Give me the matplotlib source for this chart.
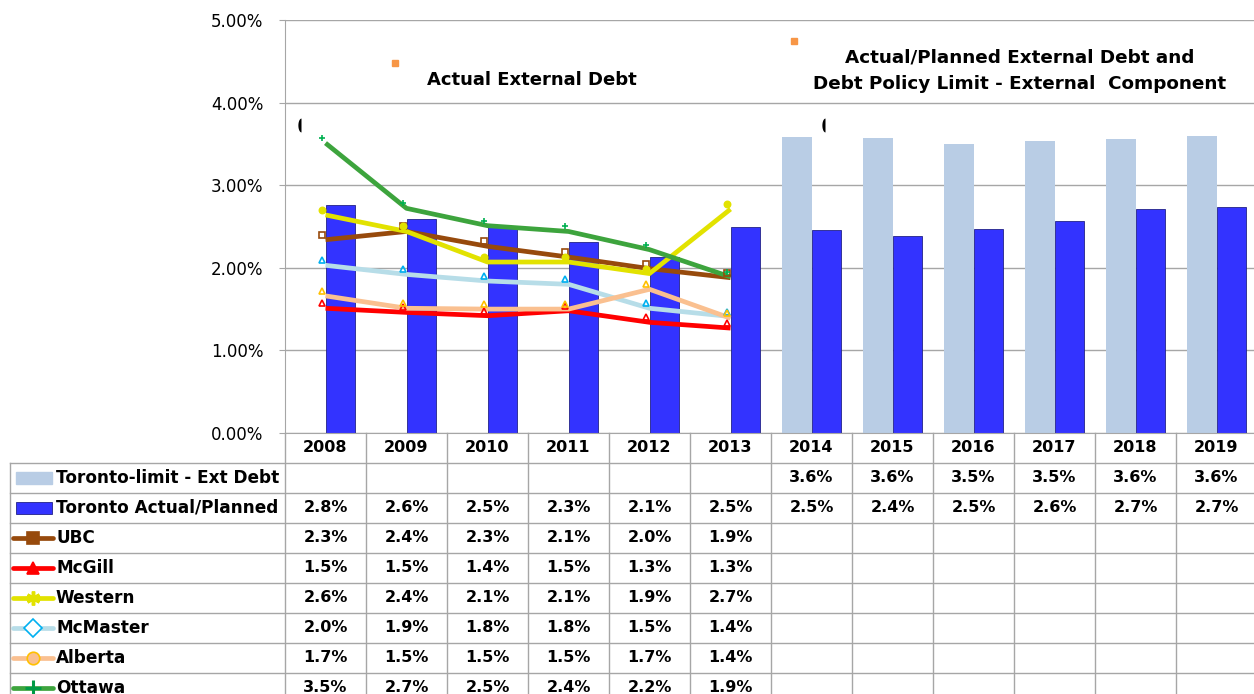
import numpy as np
import matplotlib
matplotlib.use("Agg")
import matplotlib.pyplot as plt
from matplotlib.transforms import ScaledTranslation
from matplotlib.patches import Rectangle
from matplotlib.ticker import FuncFormatter

nan = np.nan
years = ['2008', '2009', '2010', '2011', '2012', '2013',
         '2014', '2015', '2016', '2017', '2018', '2019']
toronto_limit = [nan, nan, nan, nan, nan, nan, 3.58, 3.57, 3.50, 3.54, 3.56, 3.60]
toronto_actual = [2.76, 2.59, 2.49, 2.31, 2.13, 2.49, 2.46, 2.39, 2.47, 2.57, 2.71, 2.74]
ubc = [2.34, 2.44, 2.26, 2.13, 1.99, 1.88]
mcgill = [1.51, 1.46, 1.42, 1.48, 1.34, 1.27]
western = [2.64, 2.44, 2.07, 2.07, 1.93, 2.71]
mcmaster = [2.03, 1.92, 1.84, 1.80, 1.51, 1.41]
alberta = [1.66, 1.51, 1.50, 1.50, 1.74, 1.39]
ottawa = [3.51, 2.72, 2.51, 2.44, 2.22, 1.89]

title_left = "Actual External Debt"
title_right = "Actual/Planned External Debt and\nDebt Policy Limit - External  Component"

W, H = 1254, 694
fig = plt.figure(figsize=(W / 100, H / 100), dpi=100)
fig.patch.set_facecolor('white')

# layout in pixels
PL, PR, PT, PB = 285, 1257, 20, 433
CAT_PX = (PR - PL) / len(years)
ROW_PX = 30
TL = 10

ax = fig.add_axes([PL / W, (H - PB) / H, (PR - PL) / W, (PB - PT) / H])
x = np.arange(len(years))
ax.set_xlim(-0.5, len(years) - 0.5)
ax.set_ylim(0, 5)

grid_c = '#A6A6A6'
bw = 0.36
ax.bar(x - bw / 2, toronto_limit, width=bw, color='#B9CDE5', zorder=2)
ax.bar(x + bw / 2, toronto_actual, width=bw, color='#3333FF', edgecolor='#222288',
       linewidth=0.6, zorder=2)

asterisk = (6, 2, 0)
series = [
    ('UBC', ubc, '#974A0C', 's', dict(mfc='#974A0C', mec='#974A0C'), '#974A0C', 's', 'none'),
    ('McGill', mcgill, '#FF0000', '^', dict(mfc='#FF0000', mec='#FF0000'), '#FF0000', '^', 'none'),
    ('Western', western, '#E2E200', asterisk, dict(mfc='#E2E200', mec='#E2E200'), '#E2E200', 'o', '#E2E200'),
    ('McMaster', mcmaster, '#B7DDE8', 'D', dict(mfc='white', mec='#00B0F0'), '#00B0F0', '^', 'none'),
    ('Alberta', alberta, '#FAC090', 'o', dict(mfc='#FAC090', mec='#FFC000'), '#FFC000', '^', 'none'),
    ('Ottawa', ottawa, '#3DA43D', '+', dict(mfc='#3DA43D', mec='#009A46'), '#00B050', '+', '#00B050'),
]
xs = np.arange(len(ubc))
off = ax.transData + ScaledTranslation(-4 / 100, 5 / 100, fig.dpi_scale_trans)
for name, vals, col, mk, mkw, scol, smk, sface in series:
    ax.plot(xs, vals, color=col, lw=3.4, solid_capstyle='butt', zorder=4)
    ax.plot(xs, vals, ls='none', marker=smk, ms=4.5, mec=scol,
            mfc=(sface if sface != 'none' else 'none'), mew=1.2, transform=off, zorder=5)

ax.yaxis.set_major_locator(plt.MultipleLocator(1))
ax.yaxis.set_major_formatter(FuncFormatter(lambda v, p: f"{v:.2f}%"))
ax.grid(axis='y', color=grid_c, lw=1, zorder=0)
ax.set_axisbelow(True)
ax.tick_params(axis='y', direction='out', length=4, color=grid_c, pad=11.5, labelsize=12)
ax.set_xticks([])
for s in ['top', 'right']:
    ax.spines[s].set_visible(False)
ax.spines['left'].set_color(grid_c)
ax.spines['bottom'].set_color(grid_c)

ax.text(0.254, 0.855, title_left, transform=ax.transAxes, ha='center', va='center',
        fontsize=13, fontweight='bold')
ax.text(0.756, 0.877, title_right, transform=ax.transAxes, ha='center', va='center',
        fontsize=13.2, fontweight='bold', linespacing=1.55)
# stray key remnants seen in the source rendering
ax.plot([0.113], [0.895], transform=ax.transAxes, marker='s', ms=5, color='#F79646', clip_on=False)
ax.plot([0.524], [0.948], transform=ax.transAxes, marker='s', ms=5, color='#F79646', clip_on=False)
theta = np.linspace(np.pi / 2, 3 * np.pi / 2, 20)
half_ell = list(zip(0.45 * np.cos(theta), np.sin(theta)))
for fx in (0.0165, 0.556):
    ax.plot([fx], [0.746], transform=ax.transAxes, marker=half_ell, ms=10, color='black',
            mew=0, clip_on=False, zorder=6)

# ---- data table ----
n_rows = 9
TH = H - PB
ax_t = fig.add_axes([TL / W, 0, (PR - TL) / W, TH / H])
xl = -0.5 - (PL - TL) / CAT_PX
ax_t.set_xlim(xl, len(years) - 0.5)
ax_t.set_ylim(TH / ROW_PX, 0)
ax_t.axis('off')


def px2x(px):
    return xl + (px - TL) / CAT_PX


lc = grid_c
for r in range(1, n_rows + 1):
    ax_t.plot([xl, len(years) - 0.5], [r, r], color=lc, lw=1, clip_on=False)
for b in np.arange(len(years) + 1) - 0.5:
    ax_t.plot([b, b], [0, n_rows], color=lc, lw=1, clip_on=False)
ax_t.plot([xl, xl], [1, n_rows], color=lc, lw=1, clip_on=False)

fs = 11.5
for i, yv in enumerate(years):
    ax_t.text(i, 0.5, yv, ha='center', va='center', fontsize=fs, fontweight='bold')

row_names = ['Toronto-limit - Ext Debt', 'Toronto Actual/Planned'] + [s[0] for s in series]
row_vals = [toronto_limit, toronto_actual] + [s[1] for s in series]
for r, (nm, vals) in enumerate(zip(row_names, row_vals), start=1):
    yc = r + 0.5
    ax_t.text(px2x(56), yc, nm, ha='left', va='center', fontsize=12.2, fontweight='bold')
    for i, v in enumerate(vals):
        if not np.isnan(v):
            ax_t.text(i, yc, f"{v:.1f}%", ha='center', va='center', fontsize=fs, fontweight='bold')

# legend keys
ax_t.add_patch(Rectangle((px2x(16), 1.3), px2x(52) - px2x(16), 0.4, color='#B9CDE5'))
ax_t.add_patch(Rectangle((px2x(16), 2.3), px2x(52) - px2x(16), 0.4, color='#3333FF',
                         ec='#222288', lw=0.6))
for r, (name, vals, col, mk, mkw, scol, smk, sface) in enumerate(series, start=3):
    yc = r + 0.5
    ax_t.plot([px2x(13), px2x(53)], [yc, yc], color=col, lw=3.4, solid_capstyle='round')
    if mk == '+':
        ms, mew = 11, 2.2
    elif mk == asterisk:
        ms, mew = 10, 2.5
    else:
        ms, mew = 9, 1.2
    ax_t.plot([px2x(33)], [yc], marker=mk, ms=ms, mew=mew, **mkw)

fig.savefig('out.png', dpi=100, facecolor='white')
